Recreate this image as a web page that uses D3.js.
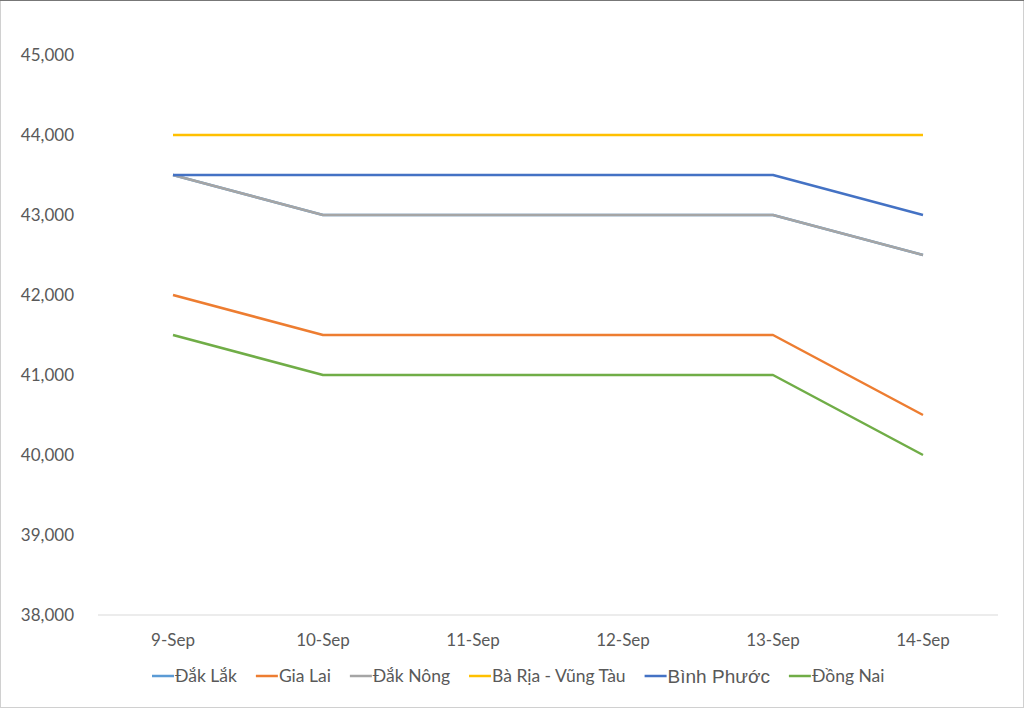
<!DOCTYPE html>
<html>
<head>
<meta charset="utf-8">
<script src="https://cdn.jsdelivr.net/npm/d3@7"></script>
<style>
  body { margin: 0; background: #fff; }
  svg { display: block; font-family: Lato, "Open Sans", sans-serif; }
</style>
</head>
<body>
<div id="chart"></div>
<script>
// Data
const dates = ["9-Sep", "10-Sep", "11-Sep", "12-Sep", "13-Sep", "14-Sep"];
const seriesNames = ["Đắk Lắk", "Gia Lai", "Đắk Nông", "Bà Rịa - Vũng Tàu", "Bình Phước", "Đồng Nai"];
const dakLak = [43500, 43000, 43000, 43000, 43000, 42500];
const giaLai = [42000, 41500, 41500, 41500, 41500, 40500];
const dakNong = [43500, 43000, 43000, 43000, 43000, 42500];
const baRia = [44000, 44000, 44000, 44000, 44000, 44000];
const binhPhuoc = [43500, 43500, 43500, 43500, 43500, 43000];
const dongNai = [41500, 41000, 41000, 41000, 41000, 40000];
const yTicks = [38000, 39000, 40000, 41000, 42000, 43000, 44000, 45000];
const colors = ["#5B9BD5", "#ED7D31", "#A5A5A5", "#FFC000", "#4472C4", "#70AD47"];

const allValues = [dakLak, giaLai, dakNong, baRia, binhPhuoc, dongNai];
const series = seriesNames.map((name, i) => ({name, values: allValues[i], color: colors[i]}));

const W = 1024, H = 710;
const margin = {top: 55, right: 26, bottom: 95, left: 98};

const svg = d3.select("#chart").append("svg")
    .attr("width", W)
    .attr("height", H);

// outer frame
svg.append("rect")
    .attr("x", 0.5).attr("y", 0.5)
    .attr("width", W - 1).attr("height", H - 3)
    .attr("fill", "none")
    .attr("stroke", "#d0d0d0");
svg.append("line")
    .attr("x1", 0).attr("x2", W).attr("y1", 0.5).attr("y2", 0.5)
    .attr("stroke", "#777");

const x = d3.scaleBand()
    .domain(dates)
    .range([margin.left, W - margin.right]);

const y = d3.scaleLinear()
    .domain([38000, 45000])
    .range([H - margin.bottom, margin.top]);

// baseline
svg.append("line")
    .attr("x1", x.range()[0]).attr("x2", x.range()[1])
    .attr("y1", y(38000)).attr("y2", y(38000))
    .attr("stroke", "#d9d9d9")
    .attr("stroke-width", 1);

// y labels
svg.append("g")
    .attr("transform", `translate(${margin.left - 21},0)`)
    .call(d3.axisLeft(y).tickValues(yTicks).tickFormat(d3.format(",")).tickSize(0))
    .call(g => g.select(".domain").remove())
    .call(g => g.selectAll("text")
        .attr("fill", "#595959")
        .style("font-size", "17px")
        .style("font-family", "Lato, sans-serif"));

// x labels
svg.append("g")
    .attr("transform", `translate(0,${y(38000) + 16})`)
    .call(d3.axisBottom(x).tickSize(0))
    .call(g => g.select(".domain").remove())
    .call(g => g.selectAll("text")
        .attr("fill", "#595959")
        .style("font-size", "17px")
        .style("font-family", "Lato, sans-serif"));

// lines
const line = d3.line()
    .x((d, i) => x(dates[i]) + x.bandwidth() / 2)
    .y(d => y(d));

svg.selectAll(".series")
    .data(series)
    .join("path")
    .attr("class", "series")
    .attr("fill", "none")
    .attr("stroke", d => d.color)
    .attr("stroke-width", 2.5)
    .attr("stroke-linejoin", "round")
    .attr("d", d => line(d.values));

// legend
const legendY = 676;
const legend = svg.append("g");
let lx = 152;
series.forEach((s, i) => {
    const g = legend.append("g").attr("transform", `translate(${lx},${legendY})`);
    g.append("line")
        .attr("x1", 0).attr("x2", 22)
        .attr("y1", 0).attr("y2", 0)
        .attr("stroke", s.color)
        .attr("stroke-width", 2.5);
    const t = g.append("text")
        .attr("x", 23)
        .attr("y", 0)
        .attr("dy", "0.35em")
        .attr("fill", "#595959")
        .style("font-size", s.name === "Bình Phước" ? "19px" : "17.5px")
        .style("font-family", s.name === "Bình Phước" ? "'Liberation Sans', Arial, sans-serif" : "Lato, sans-serif")
        .text(s.name);
    lx += 23 + t.node().getComputedTextLength() + 19;
});
</script>
</body>
</html>
